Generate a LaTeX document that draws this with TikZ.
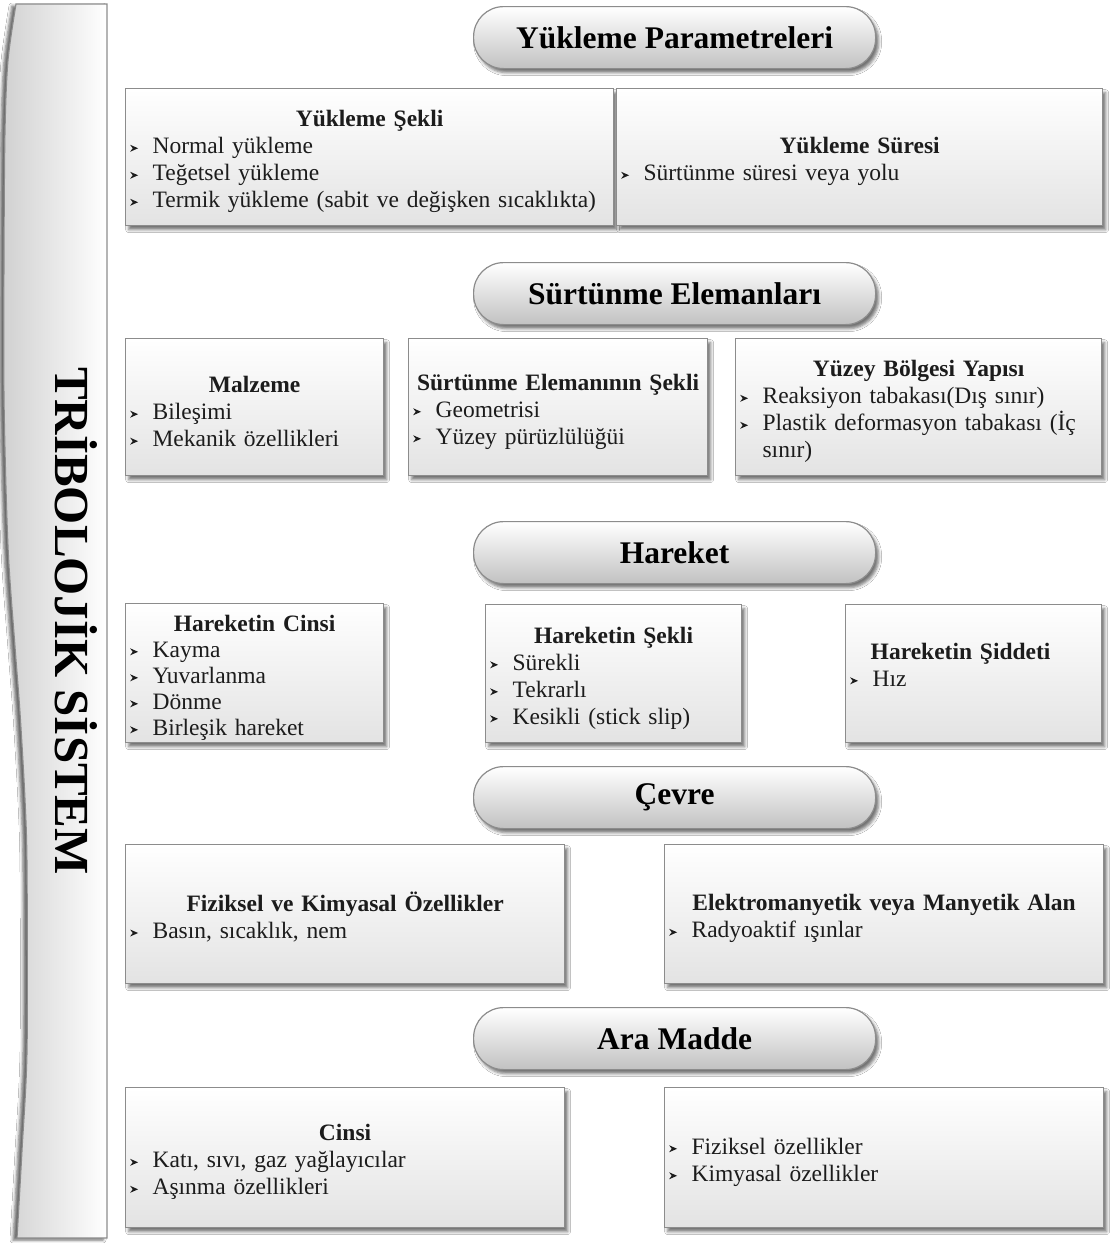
\documentclass[tikz,border=0pt]{standalone}
\usepackage{fontspec}
\setmainfont{Liberation Serif}
\usetikzlibrary{shadows.blur}

\definecolor{edge}{RGB}{140,140,140}
\definecolor{ink}{RGB}{28,28,28}

% small arrowhead used as list marker
\newsavebox\chevbox
\sbox\chevbox{\tikz\fill[ink] (0,0) -- (8pt,3.5pt) -- (0,7pt) -- (2.6pt,3.5pt) -- cycle;}
\newcommand\itm[1]{\makebox[22pt][l]{\hspace*{-0.5pt}\raisebox{1.8pt}{\usebox\chevbox}}#1}
\newcommand\hd[1]{\makebox[\linewidth][c]{\bfseries #1}}

\tikzset{
  shade/.style={blur shadow={shadow xshift=3pt, shadow yshift=-4pt,
      shadow blur radius=3pt, shadow opacity=55}},
  infobox/.style={draw=edge, line width=1.2pt, top color=white, bottom color=black!11,
      anchor=north west, inner xsep=5pt, inner ysep=0pt, align=left,
      font=\fontsize{23.5}{27}\selectfont, text=ink, shade,
      execute at begin node={\rule{0pt}{25pt}}},
  pill/.style={draw=edge, line width=1.2pt, rounded corners=30pt, top color=white,
      bottom color=black!24, minimum width=402pt, minimum height=62pt,
      anchor=north west, font=\fontsize{31.5}{36}\selectfont\bfseries, text=black, shade},
}

\begin{document}
\begin{tikzpicture}[x=1pt, y=-1pt]
\useasboundingbox (0,0) rectangle (1111,1243);
\fill[white] (0,0) rectangle (1111,1243);

% vertical banner on the left
\path[draw=edge, line width=1.2pt, left color=black!18, right color=white,
      blur shadow={shadow xshift=-4pt, shadow yshift=-2pt, shadow blur radius=3pt, shadow opacity=60}]
  (107,1238) -- (107,4) -- (16,4) -- plot[smooth] coordinates
  {(16,4) (8,60) (5,130) (4,250) (4,400) (8,547) (15,647) (20,713) (25,800) (27,870) (27,1050) (22,1150) (17,1238)}
  -- cycle;
\node[rotate=-90, anchor=base, font=\fontsize{49}{56}\selectfont\bfseries, text=black]
  (system) at (55,621) {TRİBOLOJİK SİSTEM};

% section headers
\node[pill] (loadpar) at (473,6)    {Yükleme Parametreleri};
\node[pill] (elements) at (473,262) {Sürtünme Elemanları};
\node[pill] (motion) at (473,521)   {Hareket};
\node[pill] (environ) at (473,766)  {Çevre};
\node[pill] (medium) at (473,1007)  {Ara Madde};

% loading parameters
\node[infobox, minimum width=488pt, minimum height=137pt, text width=478pt] (loadform) at (125,88)
  {\hd{Yükleme Şekli}\\ \itm{Normal yükleme}\\ \itm{Teğetsel yükleme}\\
   \itm{Termik yükleme (sabit ve değişken sıcaklıkta)}};
\node[infobox, minimum width=486pt, minimum height=137pt, text width=476pt] (loadtime) at (616,88)
  {\hd{Yükleme Süresi}\\ \itm{Sürtünme süresi veya yolu}};

% friction elements
\node[infobox, minimum width=258pt, minimum height=137pt, text width=248pt] (material) at (125,338)
  {\hd{Malzeme}\\ \itm{Bileşimi}\\ \itm{Mekanik özellikleri}};
\node[infobox, minimum width=299pt, minimum height=137pt, text width=289pt] (shape) at (408,338)
  {\hd{Sürtünme Elemanının Şekli}\\ \itm{Geometrisi}\\ \itm{Yüzey pürüzlülüğüi}};
\node[infobox, minimum width=366pt, minimum height=137pt, text width=356pt] (surface) at (735,338)
  {\hd{Yüzey Bölgesi Yapısı}\\ \itm{Reaksiyon tabakası(Dış sınır)}\\
   \itm{Plastik deformasyon tabakası (İç}\\ \hspace*{22pt}sınır)};

% motion
\node[infobox, minimum width=258pt, minimum height=139pt, text width=248pt,
      font=\fontsize{23.5}{26}\selectfont] (mkind) at (125,603)
  {\hd{Hareketin Cinsi}\\ \itm{Kayma}\\ \itm{Yuvarlanma}\\ \itm{Dönme}\\ \itm{Birleşik hareket}};
\node[infobox, minimum width=256pt, minimum height=138pt, text width=246pt] (mform) at (485,604)
  {\hd{Hareketin Şekli}\\ \itm{Sürekli}\\ \itm{Tekrarlı}\\ \itm{Kesikli (stick slip)}};
\node[infobox, minimum width=256pt, minimum height=138pt, text width=246pt] (mrate) at (845,604)
  {\hd{Hareketin Şiddeti\hspace{26pt}}\\ \itm{Hız}\\ \mbox{}};

% environment
\node[infobox, minimum width=439pt, minimum height=139pt, text width=429pt] (physchem) at (125,844)
  {\hd{Fiziksel ve Kimyasal Özellikler}\\ \itm{Basın, sıcaklık, nem}};
\node[infobox, minimum width=439pt, minimum height=139pt, text width=429pt] (field) at (664,844)
  {\hd{Elektromanyetik veya Manyetik Alan}\\ \itm{Radyoaktif ışınlar}};

% intermediate medium
\node[infobox, minimum width=439pt, minimum height=140pt, text width=429pt] (kind) at (125,1087)
  {\hd{Cinsi}\\ \itm{Katı, sıvı, gaz yağlayıcılar}\\ \itm{Aşınma özellikleri}};
\node[infobox, minimum width=439pt, minimum height=140pt, text width=429pt] (props) at (664,1087)
  {\itm{Fiziksel özellikler}\\ \itm{Kimyasal özellikler}};
\end{tikzpicture}
\end{document}
